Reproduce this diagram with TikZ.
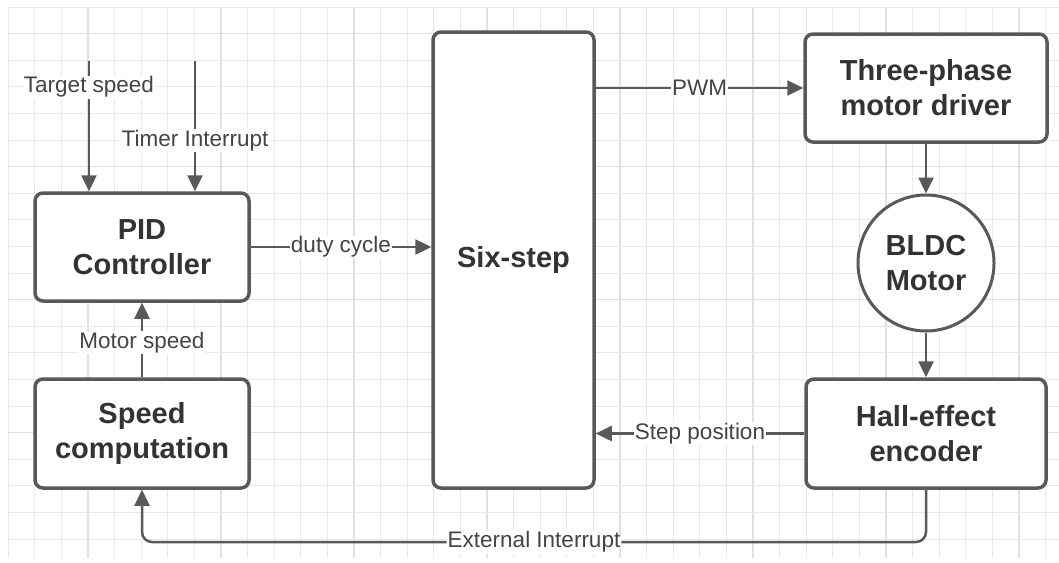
\documentclass[tikz,border=0pt]{standalone}
\usepackage{fontspec}
\setmainfont{Liberation Sans}
\usetikzlibrary{arrows.meta}
\definecolor{edgec}{HTML}{595959}
\definecolor{txtc}{HTML}{333333}
\definecolor{lblc}{HTML}{444444}
\definecolor{gridminor}{HTML}{E8E8E8}
\definecolor{gridmajor}{HTML}{E0E0E0}
\tikzset{
  block/.style={draw=edgec, line width=3.5pt, fill=white, rounded corners=8pt,
    align=center, text=txtc, font=\fontsize{29}{35}\selectfont\bfseries, inner sep=0pt},
  roundblock/.style={draw=edgec, line width=3pt, fill=white, circle,
    align=center, text=txtc, font=\fontsize{29}{35}\selectfont\bfseries, inner sep=0pt, minimum size=136pt},
  conn/.style={draw=edgec, line width=2.5pt, -{Triangle[length=16pt,width=15pt]}},
  lbl/.style={fill=white, text=lblc, font=\fontsize{22.5}{27}\selectfont, inner sep=1pt}
}
\begin{document}
\begin{tikzpicture}[x=1pt,y=-1pt]
\useasboundingbox (0,0) rectangle (1059,562);
\fill[white] (0,0) rectangle (1059,562);
% grid
\foreach \i in {0,...,39} {
  \pgfmathsetmacro{\xx}{8+26.6*\i}
  \pgfmathtruncatemacro{\mm}{mod(\i,5)}
  \ifnum\mm=3
    \draw[gridmajor, line width=1.5pt] (\xx,7) -- (\xx,558);
  \else
    \draw[gridminor, line width=0.9pt] (\xx,7) -- (\xx,558);
  \fi
}
\foreach \j in {0,...,20} {
  \pgfmathsetmacro{\yy}{7+26.6*\j}
  \pgfmathtruncatemacro{\mm}{mod(\j,5)}
  \ifnum\mm=1
    \draw[gridmajor, line width=1.5pt] (8,\yy) -- (1059,\yy);
  \else
    \draw[gridminor, line width=0.9pt] (8,\yy) -- (1059,\yy);
  \fi
}
% blocks
\node[block, minimum width=214pt, minimum height=108pt] (pid) at (142,247) {PID\\Controller};
\node[block, minimum width=214pt, minimum height=109pt] (spd) at (142,433.5) {Speed\\computation};
\node[block, minimum width=161pt, minimum height=456pt] (six) at (513.5,260) {Six-step};
\node[block, minimum width=242pt, minimum height=108pt] (drv) at (926,88) {Three-phase\\motor driver};
\node[roundblock] (bldc) at (926,263) {BLDC\\Motor};
\node[block, minimum width=240pt, minimum height=109pt] (hall) at (926,433.5) {Hall-effect\\encoder};
% free ends
\coordinate (ts) at (89,61);
\coordinate (ti) at (195,61);
\coordinate (c1) at (926,542);
\coordinate (c2) at (142,542);
% connectors
\draw[conn] (ts) -- node[lbl, pos=0.2] {Target speed} (pid.north -| ts);
\draw[conn] (ti) -- node[lbl, pos=0.61] {Timer Interrupt} (pid.north -| ti);
\draw[conn] (pid.east) -- node[lbl] {duty cycle} (pid.east -| six.west);
\draw[conn] (drv.west -| six.east) -- node[lbl] {PWM} (drv.west);
\draw[conn] (drv.south) -- (bldc.north);
\draw[conn] (bldc.south) -- (hall.north);
\draw[conn] (hall.west) -- node[lbl] {Step position} (hall.west -| six.east);
\draw[conn] (spd.north) -- node[lbl, pos=0.47] {Motor speed} (pid.south);
\draw[conn, rounded corners=10pt] (hall.south) -- (c1) -- node[lbl] {External Interrupt} (c2) -- (spd.south);
\end{tikzpicture}
\end{document}
